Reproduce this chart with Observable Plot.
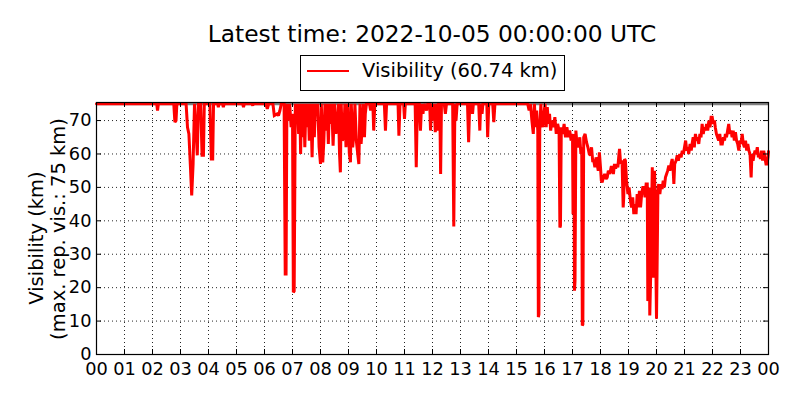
<!DOCTYPE html>
<html>
<head>
<meta charset="utf-8">
<script src="https://cdn.jsdelivr.net/npm/d3@7"></script>
<script src="https://cdn.jsdelivr.net/npm/@observablehq/plot@0.6"></script>
<style>
  html, body { margin: 0; padding: 0; background: #fff; }
  #wrap { position: relative; width: 800px; height: 400px; font-family: "DejaVu Sans", sans-serif; color: #000; }
  #title { position: absolute; left: 0; top: 22px; width: 864px; text-align: center; font-size: 23.3px; line-height: 1; white-space: nowrap; }
  #legend { position: absolute; left: 300px; top: 55px; width: 263px; height: 34px; border: 1px solid #000; background: #fff; }
  #legend .swatch { position: absolute; left: 6px; top: 14px; width: 42px; height: 0; border-top: 2.6px solid red; }
  #legend .label { position: absolute; left: 61px; top: 5px; font-size: 19.5px; line-height: 1; white-space: nowrap; }
  #ylab { position: absolute; left: 0; top: 0; }
  #plot { position: absolute; left: 0; top: 0; }
</style>
</head>
<body>
<div id="wrap">
  <div id="plot"></div>
  <div id="title"></div>
  <div id="legend"><div class="swatch"></div><div class="label"></div></div>
  <svg id="ylab" width="90" height="400"></svg>
</div>
<script>
const titleText = "Latest time: 2022-10-05 00:00:00 UTC";
const legendText = "Visibility (60.74 km)";
const yLabelLines = ["Visibility (km)", "(max. rep. vis.: 75 km)"];
const maxReportedVisibility = 75;
const hourTicks = d3.range(0, 25);
const visTicks = [0, 10, 20, 30, 40, 50, 60, 70];

// [hour of day, visibility km]
const readings00to07 = [
[0,75],[2.15,75],[2.18,73],[2.21,75],[2.76,75],[2.8,69.5],[2.84,70],[2.87,75],
[3.2,75],[3.25,68],[3.3,66],[3.35,57],[3.4,47.6],[3.45,57],[3.5,75],[3.55,68],[3.6,59.6],[3.64,75],[3.72,75],[3.77,59.6],[3.82,59.6],[3.85,75],
[4.05,75],[4.1,58.5],[4.15,58.5],[4.18,75],[4.33,75],[4.35,74],[4.38,75],[4.5,75],[4.53,74],[4.56,75],[5.22,75],[5.25,74],[5.28,75],[5.55,75],[5.58,74.5],[5.6,75],
[6.05,75],[6.1,73.5],[6.15,75],[6.3,75],[6.35,71.5],[6.45,72],[6.5,71.5],[6.55,73],[6.6,75],[6.7,75],[6.74,24.1],[6.77,24.1],[6.8,75],[6.85,70],[6.9,75],[6.95,68],[7.0,72],[7.03,18.6],[7.06,19],[7.1,75]
];
const readings07to15 = [
[7.14,70],[7.17,75],[7.22,66],[7.26,75],[7.29,60],[7.32,75],[7.36,65],[7.4,75],[7.44,62],[7.48,75],[7.52,68],[7.56,75],[7.6,64],[7.65,75],[7.7,59],[7.74,75],[7.78,65],[7.82,75],[7.86,72],[7.9,75],[7.95,62],[8.0,57],[8.03,75],[8.08,57.5],[8.12,64],[8.16,75],[8.2,67],[8.24,75],[8.28,63],[8.32,75],[8.36,69],[8.4,75],[8.45,62.5],[8.5,75],[8.55,66],[8.6,69.5],[8.64,75],[8.68,60],[8.71,54.5],[8.74,75],[8.78,64],[8.83,65],[8.87,75],[8.91,62],[8.95,70],[8.98,75],[9.03,60],[9.07,57.5],[9.1,75],[9.15,62],[9.19,66],[9.23,75],[9.28,64],[9.33,60],[9.37,57],[9.41,75],[9.45,63],[9.49,68],[9.53,75],[9.57,65],[9.6,72],[9.64,75],[9.75,75],[9.79,73],[9.82,75],[9.87,75],[9.9,67],[9.94,75],
[10.28,75],[10.32,67],[10.36,75],[10.77,75],[10.8,65.5],[10.84,75],[10.97,75],[11.0,70.5],[11.03,75],[11.38,75],[11.42,56],[11.46,75],[11.53,75],[11.57,67],[11.61,75],[11.66,72],[11.7,75],[11.79,73],[11.83,75],[11.9,75],[11.93,67],[11.97,75],[12.02,70],[12.06,75],[12.1,66.5],[12.14,75],[12.17,67],[12.21,75],[12.26,75],[12.29,54],[12.32,75],[12.42,75],[12.46,72],[12.5,75],
[12.72,75],[12.76,38.3],[12.8,75],[12.84,70],[12.88,75],[13.25,75],[13.29,63.5],[13.33,75],[13.4,75],[13.43,72],[13.46,75],[13.65,75],[13.69,67],[13.72,75],[13.77,72],[13.8,75],[13.94,75],[13.97,65],[14.01,75],[14.15,75],[14.19,69.5],[14.23,75],[15.4,75]
];
const readings15to24 = [
[15.45,73],[15.5,75],[15.55,70],[15.6,66],[15.64,75],[15.68,68],[15.72,73],[15.76,67],[15.78,11.2],[15.8,12],[15.83,67],[15.87,75],[15.9,70],[15.94,68],[15.98,72],[16.02,75],[16.06,68],[16.1,74],[16.14,69],[16.18,72],[16.22,67],[16.27,70],[16.32,68],[16.37,71],[16.42,66],[16.47,69],[16.52,67],[16.55,38],[16.57,38.5],[16.6,68],[16.65,66],[16.7,69],[16.75,65],[16.8,68],[16.85,65],[16.9,67],[16.95,64],[17.0,66],[17.02,42],[17.05,66],[17.07,19.1],[17.09,22],[17.12,67],[17.16,63],[17.21,62],[17.26,65],[17.3,60],[17.33,62],[17.35,8.7],[17.37,9],[17.4,65],[17.45,66],[17.5,63.5],[17.55,62],[17.6,60],[17.64,59.6],[17.68,62],[17.72,58],[17.76,58],[17.8,56],[17.84,59],[17.88,57],[17.92,55],[17.96,60.5],[18.0,56],[18.03,52],[18.06,51.5],[18.1,53],[18.15,54],[18.2,52.5],[18.24,53],[18.28,55],[18.33,54],[18.38,56],[18.42,56],[18.46,54],[18.5,57],[18.54,55.6],[18.58,57],[18.62,56],[18.66,60],[18.68,61.5],[18.72,57],[18.77,58],[18.81,44],[18.83,47],[18.86,58.5],[18.89,58],[18.93,52],[18.98,48],[19.02,50],[19.07,46],[19.11,44],[19.15,47],[19.19,42],[19.23,45],[19.27,42],[19.31,48],[19.35,44],[19.39,49],[19.43,44],[19.47,48],[19.51,50],[19.55,50],[19.59,47],[19.63,51],[19.67,51],[19.69,16],[19.71,17],[19.73,50],[19.76,11.7],[19.79,23],[19.82,40],[19.85,56],[19.88,23],[19.9,45],[19.93,55],[19.96,40],[20.0,10.7],[20.02,25],[20.05,49],[20.08,51],[20.12,48],[20.16,51],[20.2,49.5],[20.24,52],[20.28,50],[20.32,53],[20.36,54],[20.4,55],[20.44,56.5],[20.48,55],[20.52,57],[20.56,58.5],[20.59,56],[20.62,51],[20.65,57],[20.7,58],[20.74,59.6],[20.78,58],[20.83,60],[20.88,59],[20.92,61],[20.96,60],[21.0,62],[21.04,64],[21.08,61],[21.12,62],[21.15,60],[21.2,63],[21.24,61],[21.27,63],[21.31,65],[21.35,62],[21.39,66],[21.43,64],[21.47,65],[21.51,63],[21.55,66],[21.59,65],[21.63,69],[21.67,66],[21.71,68],[21.75,67],[21.79,69],[21.83,67],[21.87,70],[21.91,68],[21.95,71],[21.99,71],[22.03,69],[22.07,70],[22.1,68],[22.14,66],[22.18,65],[22.22,64],[22.26,66],[22.3,63],[22.35,63],[22.39,65],[22.43,64],[22.46,66],[22.5,65],[22.54,67],[22.58,69],[22.62,66],[22.66,67],[22.7,65],[22.74,67],[22.78,64],[22.82,66.5],[22.86,64],[22.9,63],[22.94,61],[22.98,64],[23.02,63],[23.06,66],[23.1,63],[23.14,62],[23.18,64],[23.22,61],[23.26,63],[23.3,61],[23.34,60],[23.38,53],[23.41,60],[23.45,58],[23.48,59.6],[23.52,61],[23.56,60],[23.6,62],[23.64,59],[23.68,60],[23.71,58.5],[23.75,61],[23.79,58],[23.83,61],[23.87,59],[23.91,57],[23.95,57],[23.98,59],[24,60.74]
];

const data = [...readings00to07, ...readings07to15, ...readings15to24].map(([h, v]) => ({hour: h, vis: v}));

const W = 800, H = 400, mL = 96, mR = 32, mT = 102, mB = 46;
const innerH = H - mT - mB, innerW = W - mL - mR;
const tick = 5;
const tickFont = 17.8;
const fmtHour = d => String(d % 24).padStart(2, "0");

const chart = Plot.plot({
  width: W, height: H,
  marginLeft: mL, marginRight: mR, marginTop: mT, marginBottom: mB,
  style: {fontFamily: "DejaVu Sans, sans-serif", fontSize: tickFont + "px", color: "#000", background: "#fff"},
  x: {domain: [0, 24], axis: null},
  y: {domain: [0, 75.4], axis: null},
  marks: [
    Plot.gridX(hourTicks.slice(1, -1), {stroke: "#000", strokeOpacity: 0.85, strokeWidth: 1, strokeDasharray: "1,3"}),
    Plot.gridY(visTicks.slice(1), {stroke: "#000", strokeOpacity: 0.85, strokeWidth: 1, strokeDasharray: "1,3"}),
    Plot.ruleY([maxReportedVisibility], {stroke: "#808080", strokeWidth: 3}),
    Plot.line(data, {x: "hour", y: "vis", stroke: "red", strokeWidth: 3, strokeLinejoin: "miter", strokeMiterlimit: 2}),
    Plot.tickX(hourTicks, {x: d => d, stroke: "#000", insetTop: innerH - tick}),
    Plot.tickX(hourTicks, {x: d => d, stroke: "#000", insetBottom: innerH - tick}),
    Plot.tickY(visTicks, {y: d => d, stroke: "#000", insetRight: innerW - tick}),
    Plot.tickY(visTicks, {y: d => d, stroke: "#000", insetLeft: innerW - tick}),
    Plot.axisX(hourTicks, {tickSize: 0, tickPadding: 8, tickFormat: fmtHour, fill: "#000", fontSize: tickFont, label: null}),
    Plot.axisY(visTicks, {tickSize: 0, tickPadding: 5, fill: "#000", fontSize: tickFont, label: null}),
    Plot.frame({stroke: "#000", strokeWidth: 1.2})
  ]
});
document.getElementById("plot").appendChild(chart);

document.getElementById("title").textContent = titleText;
document.querySelector("#legend .label").textContent = legendText;

const ylab = d3.select("#ylab");
const yPos = [[43, 238], [65, 229]];
yLabelLines.forEach((t, i) => {
  ylab.append("text")
    .attr("transform", `translate(${yPos[i][0]},${yPos[i][1]}) rotate(-90)`)
    .attr("text-anchor", "middle")
    .attr("font-family", "DejaVu Sans, sans-serif")
    .attr("font-size", 19.5)
    .attr("fill", "#000")
    .text(t);
});
</script>
</body>
</html>
